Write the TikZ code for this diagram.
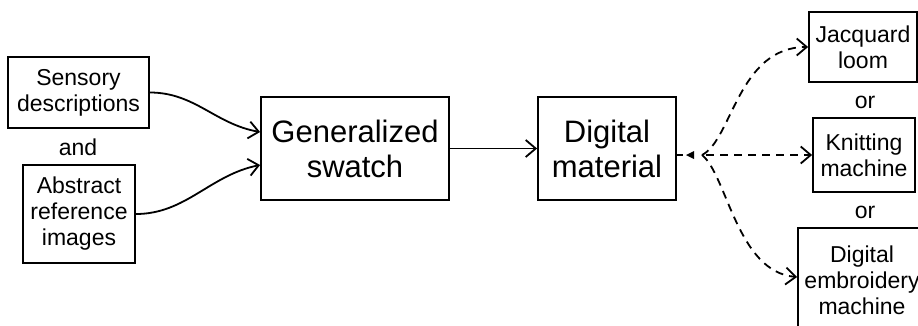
\documentclass[tikz,border=0pt]{standalone}
\usepackage{fontspec}
\setmainfont{Liberation Sans}
\usetikzlibrary{arrows.meta}
\begin{document}
\begin{tikzpicture}[x=1pt,y=-1pt,
  box/.style={draw, line width=1.8pt, inner sep=0pt, align=center, font=\fontsize{23}{26}\selectfont},
  bigbox/.style={box, font=\fontsize{31}{35}\selectfont},
  lbl/.style={inner sep=0pt, font=\fontsize{23}{26}\selectfont},
  conn/.style={line width=1.8pt, -{Straight Barb[length=10pt,width=17pt]}},
  dconn/.style={conn, dash pattern=on 8pt off 6pt},
]
\useasboundingbox (0,0) rectangle (918,325);
\clip (0,0) rectangle (918,325);
\node[box, minimum width=141pt, minimum height=71pt] (sens) at (78.5,92.5) {Sensory\\descriptions};
\node[lbl] (and) at (78,147) {and};
\node[box, minimum width=112pt, minimum height=98pt] (abs) at (79,214) {Abstract\\reference\\images};
\node[bigbox, minimum width=188pt, minimum height=103pt] (gen) at (355,148.5) {Generalized\\swatch};
\node[bigbox, minimum width=138pt, minimum height=103pt] (dig) at (607,148.5) {Digital\\material};
\node[box, minimum width=108pt, minimum height=70pt] (jac) at (863,47) {Jacquard\\loom};
\node[lbl] (or1) at (865,102) {or};
\node[box, minimum width=102pt, minimum height=74pt] (knit) at (864,155) {Knitting\\machine};
\node[lbl] (or2) at (865,212) {or};
\node[box, minimum width=128pt, minimum height=104pt] (emb) at (862,280) {Digital\\embroidery\\machine};

\draw[conn] (sens.east) .. controls +(45,0) and +(-45,-8) .. ([yshift=16.5pt]gen.west);
\draw[conn] (abs.east) .. controls +(50,0) and +(-50,10) .. ([yshift=-16.5pt]gen.west);
\draw[conn] (gen.east) -- (dig.west);

\coordinate (split) at (702,155);
\draw[line width=1.8pt] (dig.east |- split) -- ++(6,0);
\fill (686,155) -- (694,151) -- (694,159) -- cycle;
\draw[dconn] (split) .. controls +(30,-15) and +(-70,0) .. (jac.west);
\draw[dconn] ([xshift=4pt]split) -- (knit.west);
\draw[dconn] (split) .. controls +(25,20) and +(-60,-5) .. ([yshift=3pt]emb.west);
\end{tikzpicture}
\end{document}
